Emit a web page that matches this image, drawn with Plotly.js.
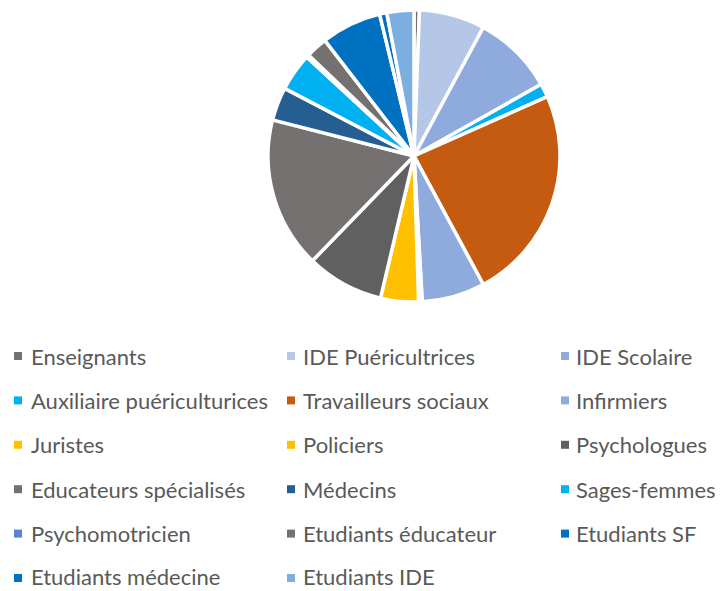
<!DOCTYPE html>
<html>
<head>
<meta charset="utf-8">
<script src="https://cdn.plot.ly/plotly-3.0.1.min.js"></script>
<style>html,body{margin:0;padding:0;background:#fff;}#chart{width:721px;height:591px;}</style>
</head>
<body>
<div id="chart"></div>
<script>
// Data (share of respondents, %)
const labels = [
  "Enseignants", "IDE Puéricultrices", "IDE Scolaire",
  "Auxiliaire puériculturices", "Travailleurs sociaux", "Infirmiers",
  "Juristes", "Policiers", "Psychologues",
  "Educateurs spécialisés", "Médecins", "Sages-femmes",
  "Psychomotricien", "Etudiants éducateur", "Etudiants SF",
  "Etudiants médecine", "Etudiants IDE"
];
const values = [
  0.6, 7.3, 9.0,
  1.5, 23.9, 7.0,
  0.4, 4.2, 8.6,
  16.8, 3.7, 4.2,
  0.3, 2.4, 6.7,
  0.8, 3.0
];
const colors = [
  "#767171", "#B4C7E7", "#8FAADC",
  "#00B0F0", "#C55A11", "#8FAADC",
  "#FFC000", "#FFC000", "#606060",
  "#767171", "#255E91", "#00B0F0",
  "#5B84D0", "#767171", "#0070C0",
  "#0070C0", "#7DAEE0"
];

const W = 721, H = 591;
const px = x => x / W;
const py = y => 1 - y / H;

// Legend layout (3 columns, manual to match row spacing)
const colMarkerX = [14, 287, 561];
const colTextX = [29.5, 302, 575];
const row0 = 356, rowGap = 44.4, mSize = 8;

const shapes = [], annotations = [];
labels.forEach((lab, i) => {
  const c = i % 3, r = Math.floor(i / 3);
  const yc = row0 + r * rowGap;
  shapes.push({
    type: "rect", xref: "paper", yref: "paper",
    x0: px(colMarkerX[c]), x1: px(colMarkerX[c] + mSize),
    y0: py(yc - mSize / 2), y1: py(yc + mSize / 2),
    fillcolor: colors[i], line: {width: 0}
  });
  annotations.push({
    xref: "paper", yref: "paper",
    x: px(colTextX[c]), y: py(Math.min(yc, 576)),
    xanchor: "left", yanchor: "middle",
    borderpad: 0,
    text: lab, showarrow: false,
    font: {family: "Lato, 'Open Sans', sans-serif", size: 22, color: "#595959"}
  });
});

const trace = {
  type: "pie",
  labels: labels,
  values: values,
  sort: false,
  direction: "clockwise",
  rotation: 0,
  textinfo: "none",
  hoverinfo: "label+percent",
  marker: {colors: colors, line: {color: "#ffffff", width: 3.5}},
  domain: {x: [268 / W, 560 / W], y: [1 - 302 / H, 1 - 10 / H]},
  showlegend: false
};

const layout = {
  width: W, height: H,
  margin: {l: 0, r: 0, t: 0, b: 0},
  paper_bgcolor: "#ffffff",
  showlegend: false,
  shapes: shapes,
  annotations: annotations,
  font: {family: "Lato, 'Open Sans', sans-serif", color: "#595959"}
};

Plotly.newPlot("chart", [trace], layout, {staticPlot: true, displayModeBar: false});
</script>
</body>
</html>
